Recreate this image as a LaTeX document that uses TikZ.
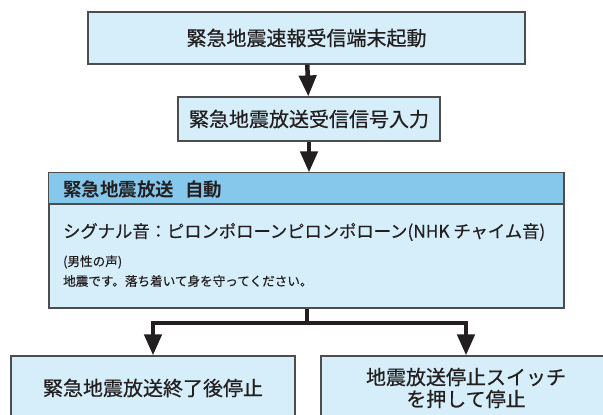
\documentclass[tikz,border=0pt]{standalone}
\usepackage{fontspec}
\setmainfont{Noto Sans CJK JP}[FakeBold=0.5, BoldFont={Noto Sans CJK JP Bold}, BoldFeatures={FakeBold=0}]
\usetikzlibrary{arrows.meta}
\definecolor{boxfill}{HTML}{D6EEF9}
\definecolor{headfill}{HTML}{85C8EC}
\definecolor{edgegray}{HTML}{4D4D4D}
\definecolor{ink}{HTML}{231F20}
\tikzset{
  x=1pt, y=-1pt,
  flowbox/.style={draw=edgegray, line width=1.2pt, fill=boxfill, inner sep=0pt, text=ink, font=\fontsize{20}{22}\selectfont, align=center},
  flowarrow/.style={draw=ink, line width=4.5pt, -{Triangle[width=17pt,length=21pt]}},
  flowline/.style={draw=ink, line width=4.5pt},
  bodytext/.style={anchor=west, inner sep=0pt, text=ink}
}
\begin{document}
\begin{tikzpicture}
\useasboundingbox (0,0) rectangle (603,415);
% boxes
\node[flowbox, minimum width=437pt, minimum height=52pt] (start) at (306.5,38) {緊急地震速報受信端末起動};
\node[flowbox, minimum width=262pt, minimum height=44pt] (input) at (309,119) {緊急地震放送受信信号入力};
\node[draw=edgegray, line width=1.2pt, fill=boxfill, minimum width=515pt, minimum height=135pt, inner sep=0pt] (auto) at (306.5,240.5) {};
\path[draw=edgegray, line width=1.2pt, fill=headfill] (auto.north west) rectangle (564,204);
\node[bodytext, font=\bfseries\fontsize{18.5}{20}\selectfont] (head) at (63,189) {緊急地震放送\hspace{0.6em}自動};
\node[bodytext, font=\fontsize{17.3}{19}\selectfont] (signal) at (63,232) {シグナル音：ピロンポローンピロンポローン(NHK チャイム音)};
\node[bodytext, font=\fontsize{12.6}{14}\selectfont] (voice) at (63,262) {(男性の声)};
\node[bodytext, font=\fontsize{12.6}{14}\selectfont] (msg) at (63,281) {地震です。落ち着いて身を守ってください。};
\node[flowbox, minimum width=284pt, minimum height=64pt] (endstop) at (153,388) {緊急地震放送終了後停止};
\node[flowbox, minimum width=290pt, minimum height=64pt] (switch) at (466,388) {地震放送停止スイッチ\\を押して停止};
% connectors
\coordinate (split) at (307,323);
\draw[flowarrow] (start) -- (input);
\draw[flowarrow] (input) -- (input.south |- auto.north);
\draw[flowline] (auto.south -| split) -- (split);
\draw[flowarrow] (split) -| (endstop.north);
\draw[flowarrow] (split) -| (switch.north);
\end{tikzpicture}
\end{document}
